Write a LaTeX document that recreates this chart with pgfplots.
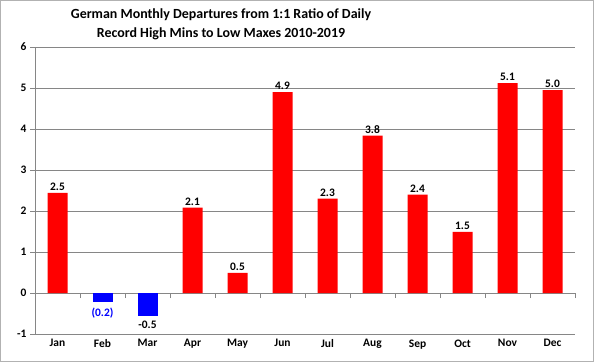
\documentclass[border=0pt]{standalone}
\usepackage{pgfplots}
\pgfplotsset{compat=1.18}
\usepackage{fontspec}
\setmainfont{Carlito}
\definecolor{gridgray}{RGB}{134,134,134}
\begin{document}
\begin{tikzpicture}[x=1bp,y=1bp]
\useasboundingbox (0,0) rectangle (594,362);
\draw[gray!60, line width=1bp] (0.5,0.5) rectangle (593.5,361.5);
\node[font=\fontsize{14}{19}\selectfont\bfseries, align=center] at (221,338) {German Monthly Departures from 1:1 Ratio of Daily\\Record High Mins to Low Maxes 2010-2019};
\begin{axis}[
  at={(35bp,28bp)}, anchor=south west,
  scale only axis, width=540bp, height=287bp,
  xmin=-0.5, xmax=11.5, ymin=-1, ymax=6,
  ybar, bar width=20bp, bar shift=0pt,
  axis x line=middle, axis y line=left,
  axis line style={-, gridgray, line width=0.8bp},
  ytick={-1,0,...,6}, ymajorgrids, grid style={gridgray, line width=0.8bp},
  xtick={-0.5,0.5,...,11.5}, xticklabels={},
  tick align=outside, major tick length=5bp,
  tick style={gridgray, line width=0.8bp},
  extra x ticks={0,1,...,11},
  extra x tick labels={Jan,Feb,Mar,Apr,May,Jun,Jul,Aug,Sep,Oct,Nov,Dec},
  extra x tick style={major tick length=0pt, tick label style={yshift=-43bp}},
  x tick label style={font=\fontsize{11.5}{13}\selectfont\bfseries},
  y tick label style={font=\fontsize{11.5}{13}\selectfont\bfseries},
  /pgf/number format/assume math mode=true,
  clip=false,
  nodes near coords,
  point meta=explicit symbolic,
  nodes near coords style={font=\fontsize{11.5}{13}\selectfont\bfseries, inner sep=2bp},
]
\addplot[fill=red, draw=none] table[meta=lab] {
x y lab
0 2.44 2.5
3 2.08 2.1
4 0.49 0.5
5 4.90 4.9
6 2.30 2.3
7 3.84 3.8
8 2.40 2.4
9 1.49 1.5
10 5.12 5.1
11 4.95 5.0
};
\addplot[fill=blue, draw=none, nodes near coords style={text=blue, anchor=north, inner sep=5.5bp}] table[meta=lab] {
x y lab
1 -0.23 (0.2)
};
\addplot[fill=blue, draw=none, nodes near coords style={anchor=north, inner sep=5.5bp}] table[meta=lab] {
x y lab
2 -0.55 -0.5
};
\end{axis}
\end{tikzpicture}
\end{document}
